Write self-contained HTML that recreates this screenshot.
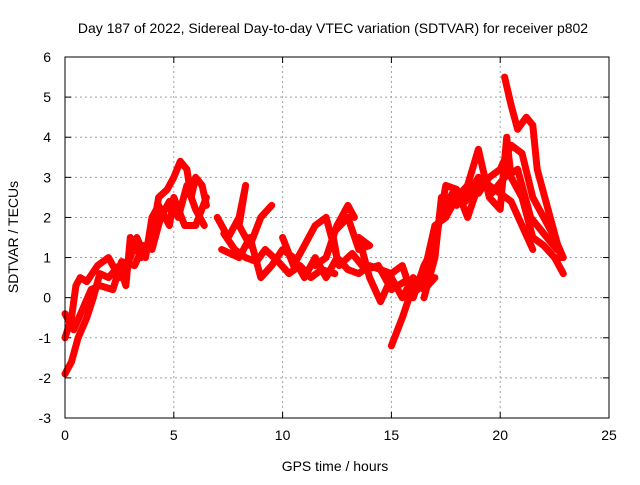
<!DOCTYPE html>
<html><head><meta charset="utf-8"><style>
body{margin:0;background:#fff;}
svg text{font-family:"Liberation Sans",sans-serif;font-size:14px;fill:#000;}
</style></head><body>
<svg id="chart" width="640" height="480" xmlns="http://www.w3.org/2000/svg">
<text x="333" y="33" text-anchor="middle">Day 187 of 2022, Sidereal Day-to-day VTEC variation (SDTVAR) for receiver p802</text>
<text x="335" y="471" text-anchor="middle">GPS time / hours</text>
<text transform="translate(18,237) rotate(-90)" text-anchor="middle">SDTVAR / TECUs</text>
<g id="grid"></g><g id="ticks"></g><g id="series"></g>
<rect x="65" y="57" width="544" height="361" fill="none" stroke="#000" stroke-width="1"/>
</svg>
<script>
const xTicks=[0,5,10,15,20,25];
const yTicks=[-3,-2,-1,0,1,2,3,4,5,6];
const trackA=[[0,-1.9],[0.3,-1.6],[0.6,-1.0],[1.0,-0.5],[1.3,0],[1.6,0.6],[2.0,0.5],[2.5,0.8],[2.8,0.3],[3.0,1.5],[3.5,1.0],[4.0,1.5],[4.3,2.5],[4.7,2.7],[5.0,3.0],[5.3,3.4],[5.6,3.2],[5.8,2.5],[6.0,3.0],[6.3,2.8],[6.5,2.3]];
const trackB=[[0,-1.0],[0.3,-0.5],[0.5,0.3],[0.7,0.5],[1.0,0.4],[1.5,0.8],[2.0,1.0],[2.5,0.5],[3.0,1.0],[3.3,1.5],[3.7,1.0],[4.0,2.0],[4.3,2.3],[4.8,1.8],[5.0,2.5],[5.5,1.8],[6.0,1.8],[6.5,2.5]];
const trackB2=[[0,-0.4],[0.4,-0.8],[0.8,-0.3],[1.2,0.2],[1.6,0.3],[2.2,0.2],[2.6,0.9],[3.2,0.8],[3.6,1.3],[4.0,1.2],[4.4,2.0],[4.8,2.4],[5.2,2.0],[5.6,2.8],[6.0,2.2],[6.4,1.8]];
const trackC=[[7,2.0],[7.5,1.5],[8,2.0],[8.3,2.8],[8.0,1.8],[8.5,1.3],[9,2.0],[9.5,2.3]];
const trackC2=[[7.3,1.6],[7.8,1.2],[8.3,1.0],[8.8,0.9],[9.2,1.2],[9.8,0.9],[10.3,0.6],[10.8,0.8],[11.3,0.5],[11.8,0.7],[12.4,0.6]];
const trackD=[[7.2,1.2],[8,1.0],[8.5,1.5],[9,0.5],[9.5,0.8],[10,1.2],[10.5,1.0],[11,0.5],[11.5,1.0],[12,0.5],[12.5,1.0],[13,0.7],[13.5,0.6],[14,0.8],[15,0.6],[15.5,0.8],[16,0],[16.5,0.8],[17,1.3],[17.5,2.8],[18,2.7],[18.5,2.0],[19,2.8],[19.5,2.8],[20,2.6],[20.5,2.4],[21,1.8],[21.5,1.2]];
const trackE=[[10,1.5],[10.5,0.8],[11,1.3],[11.5,1.8],[12,2.0],[12.5,1.0],[12.3,1.6],[13,2.0],[13.5,1.2],[14,1.3],[13.5,1.5],[14,0.5],[14.5,-0.1],[15,0.5],[15.5,0],[16,0.5],[16.5,0.2],[17,0.5]];
const trackF=[[11.5,0.8],[12,1.0],[12.5,1.8],[13,2.3],[13.3,2.0]];
const trackF2=[[12.6,0.8],[13.2,1.1],[13.8,0.7],[14.4,0.8],[15.0,0.2],[15.6,0.4],[16.2,0.2],[16.8,0.6]];
const trackG=[[15,-1.2],[15.5,-0.5],[16,0.3],[16.5,0.6],[17,1.8],[17.5,2.0],[18,2.5],[18.5,2.8],[19,2.6],[19.5,3.0],[20,3.2],[20.5,3.8],[21,3.6],[21.5,2.5],[22,2.0],[22.5,1.5],[22.9,1.0]];
const trackH=[[16.5,0],[17,1.0],[17.3,2.5],[18,2.3],[18.5,2.8],[19,3.7],[19.5,2.5],[20,2.2],[20.3,4.0],[20.5,3.0],[21,2.5],[21.5,1.5],[22,1.3],[22.5,1.0],[22.9,0.6]];
const trackH2=[[17.2,2.0],[17.8,2.6],[18.4,2.4],[19.0,3.0],[19.6,2.6],[20.2,3.0],[20.8,3.2],[21.4,2.0],[22.0,1.6],[22.6,1.2]];
const trackI=[[20.2,5.5],[20.5,4.8],[20.8,4.2],[21.2,4.5],[21.5,4.3],[21.7,3.2],[22.3,2.0],[22.8,1.0]];
const tracks=[trackA,trackB,trackB2,trackC,trackC2,trackD,trackE,trackF,trackF2,trackG,trackH,trackH2,trackI];
const NS="http://www.w3.org/2000/svg";
const X0=65,X1=609,Y0=418,Y1=57;
const sx=v=>X0+(v-0)/(25-0)*(X1-X0);
const sy=v=>Y0-(v+3)/(6+3)*(Y0-Y1);
const grid=document.getElementById('grid'),ticks=document.getElementById('ticks'),ser=document.getElementById('series');
function mk(t,a,p){const e=document.createElementNS(NS,t);for(const k in a)e.setAttribute(k,a[k]);p.appendChild(e);return e;}
xTicks.forEach(v=>{const x=sx(v);
 if(v>0&&v<25){const g=mk('line',{x1:x,x2:x,y1:Y0,y2:Y1,stroke:'#a0a0a0','stroke-dasharray':'2,3'},grid);
 
 }
 const t=mk('text',{x:x,y:Y0+22,'text-anchor':'middle'},ticks);t.textContent=v;
 
 
 mk('line',{x1:x,x2:x,y1:Y0,y2:Y0-6,stroke:'#000'},ticks);mk('line',{x1:x,x2:x,y1:Y1,y2:Y1+6,stroke:'#000'},ticks);});
yTicks.forEach(v=>{const y=sy(v);
 if(v>-3&&v<6){const g=mk('line',{x1:X0,x2:X1,y1:y,y2:y,stroke:'#a0a0a0','stroke-dasharray':'2,3'},grid);
 
 }
 const t=mk('text',{x:X0-14,y:y+5,'text-anchor':'end'},ticks);t.textContent=v;
 
 
 mk('line',{x1:X0,x2:X0+6,y1:y,y2:y,stroke:'#000'},ticks);mk('line',{x1:X1,x2:X1-6,y1:y,y2:y,stroke:'#000'},ticks);});
tracks.forEach(tr=>{const d=tr.map((p,i)=>(i?'L':'M')+sx(p[0]).toFixed(1)+','+sy(p[1]).toFixed(1)).join(' ');
 const p=mk('path',{d:d,fill:'none',stroke:'#ff0000','stroke-width':7,'stroke-linejoin':'round','stroke-linecap':'round'},ser);
 
 });
</script>
</body></html>
